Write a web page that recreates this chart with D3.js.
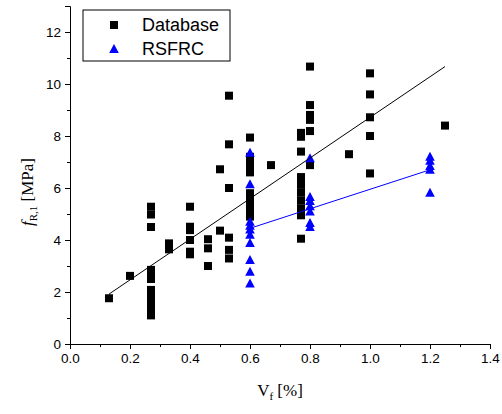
<!DOCTYPE html>
<html><head><meta charset="utf-8">
<script src="https://cdn.jsdelivr.net/npm/d3@7"></script>
<style>body{margin:0;background:#fff}svg{display:block}</style>
</head><body>
<script>
const dbX = [0.13,0.2,
 0.27,0.27,0.27,0.27,0.27,0.27,0.27,0.27,0.27,0.27,0.27,0.27,0.27,
 0.33,0.33,0.33,
 0.4,0.4,0.4,0.4,0.4,0.4,
 0.46,0.46,0.46,
 0.5,0.5,
 0.53,0.53,0.53,0.53,0.53,0.53,
 0.6,0.6,0.6,0.6,0.6,0.6,0.6,0.6,0.6,0.6,
 0.67,
 0.77,0.77,0.77,0.77,0.77,0.77,0.77,0.77,0.77,0.77,
 0.8,0.8,0.8,0.8,0.8,0.8,
 0.93,
 1.0,1.0,1.0,1.0,1.0,
 1.25];
const dbY = [1.76,2.62,
 5.28,4.98,4.5,2.85,2.65,2.5,2.08,1.9,1.72,1.55,1.4,1.25,1.1,
 3.87,3.75,3.64,
 5.28,4.51,4.38,4.0,3.55,3.45,
 4.03,3.68,3.0,
 4.36,6.72,
 9.55,7.68,6.0,4.09,3.62,3.29,
 7.94,7.2,7.0,6.8,6.6,5.8,5.5,5.3,5.1,4.9,
 6.88,
 8.12,7.97,7.4,6.42,6.12,5.82,5.52,5.22,4.95,4.05,
 10.67,9.19,8.81,8.62,8.19,6.88,
 7.3,
 10.41,9.6,8.72,8.0,6.56,
 8.4];
const rsX = [0.6,0.6,0.6,0.6,0.6,0.6,0.6,0.6,0.6,0.6,
 0.8,0.8,0.8,0.8,0.8,0.8,0.8,
 1.2,1.2,1.2,1.2,1.2];
const rsY = [7.36,6.14,4.7,4.55,4.4,4.2,3.88,3.23,2.78,2.33,
 7.14,5.65,5.5,5.3,5.1,4.65,4.5,
 7.2,7.05,6.85,6.7,5.82];
const dbFitX = [0.13,1.25];
const dbFitY = [1.92,10.67];
const rsFitX = [0.6,1.2];
const rsFitY = [4.45,6.7];
const xTickVals = [0,0.2,0.4,0.6,0.8,1.0,1.2,1.4];
const xTickLabels = ["0.0","0.2","0.4","0.6","0.8","1.0","1.2","1.4"];
const yTickVals = [0,2,4,6,8,10,12];
const yTickLabels = ["0","2","4","6","8","10","12"];
const legendNames = ["Database","RSFRC"];

const W=502,H=414;
const svg=d3.select("body").append("svg").attr("width",W).attr("height",H);
const x=d3.scaleLinear().domain([0,1.4]).range([70,490]);
const y=d3.scaleLinear().domain([0,13]).range([344,6]);
const sans="'Liberation Sans', Arial, sans-serif";
const serif="'Liberation Serif', 'Times New Roman', serif";

// x axis
const xMinor=d3.range(0,15).map(i=>i/10);
const gx=svg.append("g").attr("transform","translate(0,344)");
gx.call(d3.axisBottom(x).tickValues(xMinor).tickSize(3).tickFormat("")).call(g=>g.select(".domain").remove());
gx.append("g").call(d3.axisBottom(x).tickValues(xTickVals).tickSize(5).tickPadding(4).tickFormat((d,i)=>xTickLabels[i]))
  .call(g=>g.selectAll("text").attr("font-family",sans).attr("font-size",13.5).attr("fill","#000"));
gx.selectAll("path,line").attr("stroke","#000");

// y axis
const yMinor=d3.range(0,14);
const gy=svg.append("g").attr("transform","translate(70,0)");
gy.call(d3.axisLeft(y).tickValues(yMinor).tickSize(3).tickFormat("")).call(g=>g.select(".domain").remove());
gy.append("g").call(d3.axisLeft(y).tickValues(yTickVals).tickSize(5).tickPadding(4).tickFormat((d,i)=>yTickLabels[i]))
  .call(g=>g.selectAll("text").attr("font-family",sans).attr("font-size",13.5).attr("fill","#000"));
gy.selectAll("path,line").attr("stroke","#000");

// markers
const sq=8;
svg.append("g").selectAll("rect").data(dbX.map((d,i)=>[d,dbY[i]])).join("rect")
  .attr("x",d=>x(d[0])-sq/2).attr("y",d=>y(d[1])-sq/2).attr("width",sq).attr("height",sq).attr("fill","#000");
const tri="M0,-5L4.8,4L-4.8,4Z";
svg.append("g").selectAll("path").data(rsX.map((d,i)=>[d,rsY[i]])).join("path")
  .attr("d",tri).attr("transform",d=>`translate(${x(d[0])},${y(d[1])})`).attr("fill","#0000ff");

// fit lines
const line=d3.line().x(d=>x(d[0])).y(d=>y(d[1]));
svg.append("path").attr("d",line(dbFitX.map((d,i)=>[d,dbFitY[i]]))).attr("stroke","#000").attr("stroke-width",1).attr("fill","none");
svg.append("path").attr("d",line(rsFitX.map((d,i)=>[d,rsFitY[i]]))).attr("stroke","#0000ff").attr("stroke-width",1).attr("fill","none");

// legend
const lg=svg.append("g");
lg.append("rect").attr("x",83).attr("y",10).attr("width",147).attr("height",51).attr("fill","#fff").attr("stroke","#000").attr("stroke-width",1);
lg.append("rect").attr("x",114-sq/2).attr("y",25-sq/2).attr("width",sq).attr("height",sq).attr("fill","#000");
lg.append("path").attr("d",tri).attr("transform","translate(114,49)").attr("fill","#0000ff");
lg.selectAll("text").data(legendNames).join("text")
  .attr("x",142).attr("y",(d,i)=>25+i*24).attr("dy","0.35em")
  .attr("font-family",sans).attr("font-size",18).attr("fill","#000").text(d=>d);

// axis titles
const xt=svg.append("text").attr("x",280).attr("y",396).attr("text-anchor","middle")
  .attr("font-family",serif).attr("font-size",17).attr("fill","#000");
xt.append("tspan").text("V");
xt.append("tspan").attr("font-size",11).attr("dy",4).text("f");
xt.append("tspan").attr("dy",-4).text(" [%]");

const yt=svg.append("text").attr("transform","translate(33,192) rotate(-90)").attr("text-anchor","middle")
  .attr("font-family",serif).attr("font-size",17).attr("fill","#000");
yt.append("tspan").attr("font-style","italic").text("f");
yt.append("tspan").attr("font-size",11).attr("dy",4).text("R,1");
yt.append("tspan").attr("dy",-4).text(" [MPa]");
</script>
</body></html>
